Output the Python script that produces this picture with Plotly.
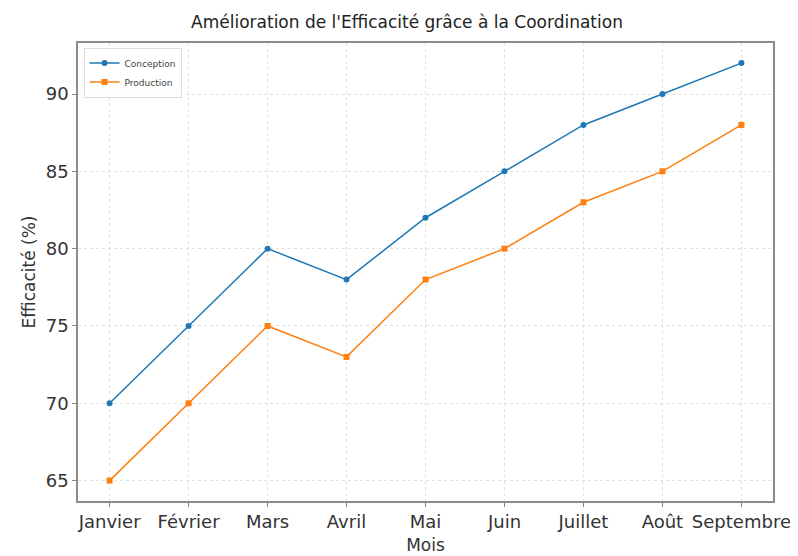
import plotly.graph_objects as go

mois = ["Janvier", "Février", "Mars", "Avril", "Mai", "Juin", "Juillet", "Août", "Septembre"]
conception = [70, 75, 80, 78, 82, 85, 88, 90, 92]
production = [65, 70, 75, 73, 78, 80, 83, 85, 88]

font_family = "DejaVu Sans, Open Sans, sans-serif"

fig = go.Figure()
fig.add_trace(go.Scatter(x=list(range(len(mois))), y=conception, mode="lines+markers",
                         name="Conception", line=dict(color="#1f77b4", width=1.5),
                         marker=dict(symbol="circle", size=6, color="#1f77b4")))
fig.add_trace(go.Scatter(x=list(range(len(mois))), y=production, mode="lines+markers",
                         name="Production", line=dict(color="#ff7f0e", width=1.5),
                         marker=dict(symbol="square", size=6, color="#ff7f0e")))

axis_common = dict(showline=True, linecolor="#8a8a8a", linewidth=1.5, mirror=True,
                   showgrid=True, gridcolor="#e0e0e0", griddash="dot", gridwidth=1,
                   ticks="outside", ticklen=4, tickcolor="#8a8a8a",
                   tickfont=dict(size=18, color="#333333"), zeroline=False)

fig.update_layout(
    width=798, height=556,
    margin=dict(l=70, r=33, t=35, b=61),
    paper_bgcolor="white", plot_bgcolor="white",
    font=dict(family=font_family, color="#333333"),
    title=dict(text="Amélioration de l'Efficacité grâce à la Coordination",
               x=0.5, xanchor="center", y=0.975, yanchor="middle",
               font=dict(size=17, color="#222222")),
    xaxis=dict(axis_common, range=[-0.4, 8.4], tickmode="array",
               tickvals=list(range(len(mois))), ticktext=mois,
               title=dict(text="Mois", font=dict(size=17), standoff=8)),
    yaxis=dict(axis_common, range=[63.68, 93.3], tickmode="array",
               tickvals=[65, 70, 75, 80, 85, 90],
               title=dict(text="Efficacité (%)", font=dict(size=17), standoff=6)),
    legend=dict(x=0.008, y=0.99, xanchor="left", yanchor="top",
                bgcolor="rgba(255,255,255,0.8)", bordercolor="#dddddd", borderwidth=1,
                font=dict(size=9, color="#444444"), itemwidth=30,
                tracegroupgap=0),
    showlegend=True,
)

fig.write_html("out.html")
